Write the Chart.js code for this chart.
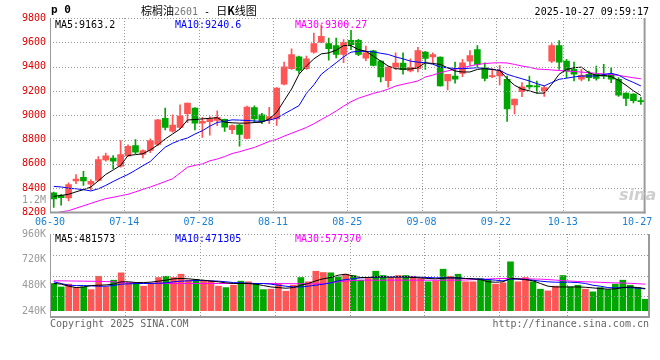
<!DOCTYPE html>
<html>
<head>
<meta charset="utf-8">
<script src="https://cdn.jsdelivr.net/npm/chart.js@4"></script>
<style>
  body { margin: 0; background: #fff; width: 660px; height: 360px; position: relative; overflow: hidden; }
  canvas { position: absolute; left: 0; }
  .t { position: absolute; font: 10px 'DejaVu Sans Mono', monospace; line-height: 12px; white-space: nowrap; }
  .cjk { font-family: 'Noto Sans CJK SC', sans-serif; font-size: 11px; }
</style>
</head>
<body>
<canvas id="price" width="660" height="230" style="top:0"></canvas>
<canvas id="vol" width="660" height="100" style="top:222px"></canvas>

<div class="t" style="left:51px;top:4px;font-weight:bold;font-size:11px">p 0</div>
<div class="t" style="left:141px;top:4px"><span class="cjk">棕榈油</span><span style="color:#777">2601</span> - <span class="cjk">日<b>K</b>线图</span></div>
<div class="t" style="right:11px;top:6px">2025-10-27 09:59:17</div>

<div class="t" style="left:55px;top:19px;color:#000">MA5:9163.2</div>
<div class="t" style="left:175px;top:19px;color:#0000ff">MA10:9240.6</div>
<div class="t" style="left:295px;top:19px;color:#ff00ff">MA30:9300.27</div>
<div class="t" style="right:614px;top:194px;color:#999">1.2M</div>
<div class="t" style="left:619px;top:185px;font:italic bold 16px 'DejaVu Sans',sans-serif;color:#cfcfcf">sina</div>

<div class="t" style="left:55px;top:233px;color:#000">MA5:481573</div>
<div class="t" style="left:175px;top:233px;color:#0000ff">MA10:471305</div>
<div class="t" style="left:295px;top:233px;color:#ff00ff">MA30:577370</div>

<div class="t" style="left:50px;top:318px;color:#666">Copyright 2025 SINA.COM</div>
<div class="t" style="right:11px;top:318px;color:#666">http://finance.sina.com.cn</div>

<script>
const categories = [
  '06-30','07-01','07-02','07-03','07-04','07-07','07-08','07-09','07-10','07-11',
  '07-14','07-15','07-16','07-17','07-18','07-21','07-22','07-23','07-24','07-25',
  '07-28','07-29','07-30','07-31','08-01','08-04','08-05','08-06','08-07','08-08',
  '08-11','08-12','08-13','08-14','08-15','08-18','08-19','08-20','08-21','08-22',
  '08-25','08-26','08-27','08-28','08-29','09-01','09-02','09-03','09-04','09-05',
  '09-08','09-09','09-10','09-11','09-12','09-15','09-16','09-17','09-18','09-19',
  '09-22','09-23','09-24','09-25','09-26','09-29','09-30','10-09','10-10','10-13',
  '10-14','10-15','10-16','10-17','10-20','10-21','10-22','10-23','10-24','10-27'
];
const tickLabels = ['06-30','07-14','07-28','08-11','08-25','09-08','09-22','10-13','10-27'];

const openP = [
  8361,8339,8320,8459,8489,8434,8464,8633,8647,8582,
  8666,8751,8677,8710,8760,8975,8870,8900,9012,9058,
  8935,8948,8958,8967,8882,8920,8810,9064,9003,8965,
  8970,9255,9383,9481,9383,9519,9600,9589,9573,9500,
  9616,9616,9470,9530,9445,9285,9395,9430,9364,9383,
  9519,9480,9478,9283,9323,9345,9445,9540,9391,9318,
  9323,9296,9084,9193,9247,9236,9201,9445,9573,9445,
  9377,9296,9337,9337,9330,9337,9296,9182,9174,9120
];
const highP = [
  8369,8350,8445,8511,8538,8470,8661,8688,8669,8792,
  8756,8800,8715,8805,8966,9060,9004,9085,9100,9064,
  8983,8990,9036,8969,8922,8925,9075,9077,9016,9065,
  9228,9437,9546,9486,9486,9676,9744,9635,9635,9622,
  9698,9625,9570,9535,9450,9400,9513,9513,9464,9559,
  9525,9513,9480,9337,9437,9459,9532,9573,9432,9383,
  9410,9323,9133,9269,9323,9282,9242,9589,9614,9459,
  9437,9377,9364,9405,9418,9391,9310,9185,9178,9147
];
const lowP = [
  8241,8260,8295,8437,8423,8388,8459,8622,8560,8573,
  8661,8683,8650,8693,8750,8880,8860,8890,8938,8880,
  8818,8836,8915,8867,8848,8746,8805,8942,8930,8930,
  8916,9250,9378,9345,9378,9510,9595,9453,9472,9432,
  9540,9490,9450,9405,9274,9230,9377,9337,9356,9356,
  9377,9432,9240,9209,9264,9318,9410,9400,9282,9310,
  9250,8949,9011,9152,9215,9182,9155,9432,9377,9310,
  9282,9282,9282,9288,9301,9269,9155,9079,9101,9090
];
const closeP = [
  8312,8322,8429,8475,8459,8456,8636,8666,8622,8677,
  8745,8696,8710,8792,8962,8900,8920,8995,9100,8935,
  8950,8972,8982,8902,8915,8842,9068,8970,8949,8989,
  9223,9399,9500,9369,9464,9589,9649,9548,9500,9600,
  9581,9500,9513,9410,9315,9396,9430,9375,9395,9532,
  9467,9500,9242,9337,9296,9431,9491,9418,9304,9321,
  9364,9052,9133,9234,9234,9233,9228,9573,9437,9364,
  9337,9328,9310,9303,9322,9296,9166,9139,9120,9112
];
const ma5 = [
  8333,8340,8350,8370,8388,8410,8460,8513,8550,8587,
  8669,8676,8683,8715,8756,8805,8846,8887,8961,8965,
  8970,8975,8980,8943,8938,8935,8935,8940,8943,8970,
  9024,9120,9215,9337,9405,9464,9505,9513,9535,9573,
  9573,9540,9527,9486,9445,9405,9383,9380,9380,9391,
  9432,9426,9418,9391,9364,9356,9356,9377,9383,9377,
  9369,9301,9247,9215,9201,9182,9182,9255,9337,9377,
  9391,9396,9350,9328,9328,9318,9288,9247,9201,9163
];
const ma10 = [
  8415,8410,8400,8395,8388,8377,8395,8423,8455,8485,
  8513,8548,8585,8620,8680,8737,8770,8795,8813,8845,
  8873,8910,8941,8950,8962,8960,8957,8953,8949,8960,
  8976,9011,9045,9079,9180,9250,9337,9385,9432,9480,
  9519,9527,9525,9521,9510,9500,9480,9464,9445,9437,
  9432,9420,9396,9390,9385,9383,9387,9391,9385,9377,
  9370,9337,9318,9300,9282,9260,9242,9269,9296,9305,
  9315,9323,9323,9323,9335,9345,9330,9296,9270,9241
];
const ma30 = [
  8195,8205,8215,8235,8255,8275,8295,8314,8325,8338,
  8350,8370,8390,8410,8432,8455,8478,8525,8573,8588,
  8600,8625,8640,8660,8685,8700,8718,8735,8760,8785,
  8802,8828,8852,8875,8900,8930,8965,8998,9035,9075,
  9111,9140,9160,9180,9195,9215,9240,9255,9268,9282,
  9315,9330,9350,9365,9378,9391,9405,9418,9425,9430,
  9432,9430,9418,9405,9395,9380,9377,9373,9368,9364,
  9360,9355,9350,9345,9340,9335,9328,9318,9308,9300
];

// volume in K
const volume = [
  497,465,491,459,465,440,565,465,528,597,
  503,497,472,497,553,565,553,584,528,534,
  522,519,472,459,481,519,513,497,440,444,
  497,425,481,553,513,612,600,597,559,584,
  572,528,544,612,572,553,572,572,565,544,
  513,522,631,565,584,513,513,544,534,491,
  503,700,513,553,513,444,428,472,572,465,
  481,444,419,459,440,491,528,481,459,350
];
const volMa5 = [
  497,491,472,459,465,478,481,484,491,513,
  513,506,506,510,519,528,541,544,541,534,
  528,519,513,503,497,497,497,491,478,465,
  459,453,459,481,497,522,541,553,575,584,
  566,553,553,559,559,556,559,559,553,550,
  544,541,547,550,550,544,541,534,513,509,
  513,544,541,534,522,497,472,465,465,465,
  465,462,456,450,444,447,459,465,459,450
];
const volMa10 = [
  513,497,481,478,478,475,472,472,478,491,
  494,497,497,497,500,503,513,519,522,525,
  525,522,519,513,506,503,500,497,497,491,
  481,472,465,465,472,481,491,503,522,534,
  541,550,553,556,559,559,559,559,559,556,
  553,550,550,550,547,544,541,538,534,528,
  522,538,538,534,528,519,513,509,509,509,
  506,497,481,472,459,456,459,459,453,447
];
const volMa30 = [
  522,522,521,520,519,518,517,515,513,505,
  503,501,500,499,498,497,497,497,497,497,
  497,497,497,497,497,497,497,497,497,497,
  496,496,495,495,494,494,494,505,513,520,
  525,528,528,528,528,528,528,528,528,528,
  528,528,528,528,528,530,533,536,539,542,
  544,544,542,540,539,538,534,529,524,520,
  516,513,511,508,505,503,502,499,495,491
];

const UP = '#ff5555';
const DOWN = '#00a600';
const GRID = '#999999';
const BORDER = '#9a9a9a';
const candleColor = c => closeP[c.dataIndex] >= openP[c.dataIndex] ? UP : DOWN;

// vertical grid only at the labelled dates (not on the two panel edges)
const gridIdx = tickLabels.map(l => categories.indexOf(l))
  .filter(i => i > 0 && i < categories.length - 1);

// dotted line of single pixels, one on and two off
function dots(ctx, x1, y1, x2, y2) {
  if (x1 === x2) {
    for (let y = Math.round(y1); y <= y2; y += 3) ctx.fillRect(Math.round(x1), y, 1, 1);
  } else {
    for (let x = Math.round(x1); x <= x2; x += 3) ctx.fillRect(x, Math.round(y1), 1, 1);
  }
}

function seg(ctx, x1, y1, x2, y2) {
  ctx.beginPath();
  ctx.moveTo(x1, y1);
  ctx.lineTo(x2, y2);
  ctx.stroke();
}

// dotted grid on top of the marks, then the solid frame
function panelPlugin(rowsOf, extraBottom) {
  return {
    id: 'panel',
    afterDraw(chart) {
      const { ctx, chartArea: a, scales } = chart;
      const bottom = a.bottom + extraBottom;
      const half = (scales.x.getPixelForValue(1) - scales.x.getPixelForValue(0)) / 2;
      ctx.save();
      ctx.globalCompositeOperation = 'source-over';
      ctx.fillStyle = GRID;
      rowsOf(chart, bottom).forEach(py => dots(ctx, a.left, py, a.right, 0));
      gridIdx.forEach(i => {
        const px = scales.x.getPixelForValue(i) - half;
        dots(ctx, px, a.top, px, bottom);
      });
      ctx.strokeStyle = BORDER;
      ctx.lineWidth = 1;
      seg(ctx, a.left + 0.5, a.top, a.left + 0.5, bottom);
      ctx.lineWidth = 2;
      seg(ctx, a.right, a.top, a.right, bottom + 1);
      seg(ctx, a.left, bottom, a.right + 1, bottom);
      ctx.restore();
    }
  };
}

const priceRows = chart => {
  const rows = [];
  for (let v = 8400; v <= 9800; v += 200) rows.push(chart.scales.y.getPixelForValue(v));
  return rows;
};
const volRows = (chart, bottom) => {
  const top = chart.chartArea.top;
  return [0, 1, 2, 3].map(k => top + (bottom - top) * k / 4);
};

const monoFont = { family: "'DejaVu Sans Mono', monospace", size: 10 };

function lineSet(data, color) {
  return { type: 'line', data: data, borderColor: color, borderWidth: 1,
           pointRadius: 0, tension: 0, fill: false, order: 1 };
}

new Chart(document.getElementById('price'), {
  type: 'bar',
  data: {
    labels: categories,
    datasets: [
      { data: lowP.map((l, i) => [l, highP[i]]), backgroundColor: candleColor,
        barThickness: 1, grouped: false, order: 3 },
      { data: openP.map((o, i) => [o, closeP[i]]), backgroundColor: candleColor,
        barThickness: 6, minBarLength: 1, grouped: false, order: 2 },
      lineSet(ma5, '#000000'),
      lineSet(ma10, '#0000ff'),
      lineSet(ma30, '#ff00ff')
    ]
  },
  options: {
    responsive: false,
    animation: false,
    devicePixelRatio: 1,
    events: [],
    layout: { padding: { top: 18, right: 11, bottom: 0, left: 0 } },
    plugins: { legend: { display: false }, tooltip: { enabled: false } },
    scales: {
      x: {
        grid: { display: false, drawTicks: false },
        border: { display: false },
        afterFit: s => { s.height = 17.5; },
        ticks: {
          autoSkip: false,
          maxRotation: 0,
          padding: 4,
          labelOffset: -3.75,
          color: '#1a7fd4',
          font: monoFont,
          callback: (v, i) => tickLabels.includes(categories[i]) ? categories[i] : ''
        }
      },
      y: {
        min: 8200,
        max: 9800,
        grid: { display: false, drawTicks: false },
        border: { display: false },
        afterFit: s => { s.width = 50; },
        ticks: { stepSize: 200, padding: 4, color: '#e00000', font: monoFont,
                 callback: v => String(v) }
      }
    }
  },
  plugins: [panelPlugin(priceRows, 0)]
});

new Chart(document.getElementById('vol'), {
  type: 'bar',
  data: {
    labels: categories,
    datasets: [
      { data: volume, backgroundColor: candleColor, barThickness: 6, order: 2 },
      lineSet(volMa5, '#000000'),
      lineSet(volMa10, '#0000ff'),
      lineSet(volMa30, '#ff00ff')
    ]
  },
  options: {
    responsive: false,
    animation: false,
    devicePixelRatio: 1,
    events: [],
    layout: { padding: { top: 12, right: 11, bottom: 11, left: 0 } },
    plugins: { legend: { display: false }, tooltip: { enabled: false } },
    scales: {
      x: { display: false },
      y: {
        min: 240,
        max: 960,
        grid: { display: false, drawTicks: false },
        border: { display: false },
        afterFit: s => { s.width = 50; },
        ticks: { stepSize: 240, padding: 4, color: '#999', font: monoFont,
                 callback: v => v + 'K' }
      }
    }
  },
  plugins: [panelPlugin(volRows, 6)]
});
</script>
</body>
</html>
